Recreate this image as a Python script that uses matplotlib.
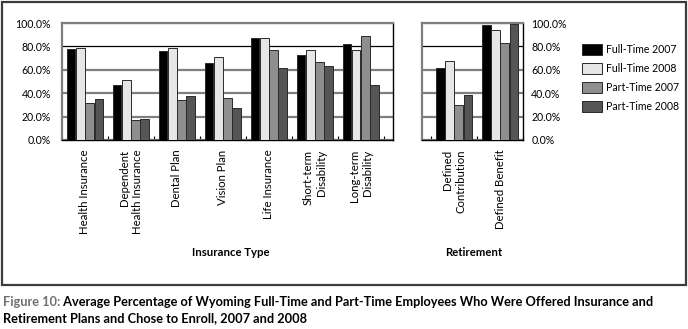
"""
Average share of Wyoming full-time and part-time employees who were
offered insurance / retirement plans and chose to enroll, 2007 vs 2008.

Produces:
    out.png
"""

import matplotlib
matplotlib.use("Agg")
import matplotlib.pyplot as plt
from matplotlib.patches import Rectangle
from matplotlib.ticker import FixedLocator

plt.rcParams["font.family"] = ["Lato", "DejaVu Sans"]

SERIES = ["Full-Time 2007", "Full-Time 2008", "Part-Time 2007", "Part-Time 2008"]
COLORS = ["#000000", "#e6e6e6", "#8e8e8e", "#555555"]

insurance_types = ["Health Insurance", "Dependent\nHealth Insurance", "Dental Plan",
                   "Vision Plan", "Life Insurance", "Short-term\nDisability",
                   "Long-term\nDisability"]
insurance_ft2007 = [77.5, 46.8, 76.4, 65.5, 87.6, 73.0, 82.0]
insurance_ft2008 = [79.0, 51.0, 78.7, 71.3, 86.8, 77.3, 77.3]
insurance_pt2007 = [32.0, 17.0, 34.5, 36.0, 77.0, 66.4, 88.8]
insurance_pt2008 = [35.0, 18.0, 38.0, 27.3, 61.8, 63.5, 47.4]

retirement_types = ["Defined\nContribution", "Defined Benefit"]
retirement_ft2007 = [61.8, 98.3]
retirement_ft2008 = [67.2, 93.7]
retirement_pt2007 = [29.6, 83.3]
retirement_pt2008 = [38.8, 99.4]

Y_TICKS = [0, 20, 40, 60, 80, 100]
TICK_FS = 7.6
XLAB_FS = 8.2
CAP_FS = 9.2
BAR_W = 0.185
STEP = 0.2


def draw_panel(ax, labels, series_values, xlim):
    x = list(range(len(labels)))
    handles = []
    for k, (vals, color) in enumerate(zip(series_values, COLORS)):
        pos = [xi + (k - 1.5) * STEP for xi in x]
        h = ax.bar(pos, vals, width=BAR_W, color=color, edgecolor="#2a2a2a",
                   linewidth=0.7, zorder=3, label=SERIES[k])
        handles.append(h)

    ax.set_xlim(*xlim)
    ax.set_ylim(0, 100)
    ax.set_yticks(Y_TICKS)
    ax.set_yticklabels([f"{v:.1f}%" for v in Y_TICKS], fontsize=TICK_FS)
    ax.set_xticks(x)
    ax.set_xticklabels(labels, rotation=90, fontsize=XLAB_FS,
                       multialignment="right", va="top")
    ax.xaxis.set_minor_locator(FixedLocator([xi - 0.5 for xi in x] + [x[-1] + 0.5]))
    ax.tick_params(axis="x", which="major", length=0, pad=7)
    ax.tick_params(axis="x", which="minor", length=3, direction="in", width=0.8)
    ax.tick_params(axis="y", length=0)

    ax.grid(axis="y", color="#7f7f7f", linewidth=1.6, zorder=0)
    # the 80% line is drawn thin and black in the original
    for val, line in zip(Y_TICKS, ax.get_ygridlines()):
        if val == 80:
            line.set_color("black")
            line.set_linewidth(0.9)

    ax.spines["left"].set_color("#7f7f7f")
    ax.spines["left"].set_linewidth(1.6)
    ax.spines["top"].set_color("#7f7f7f")
    ax.spines["top"].set_linewidth(1.6)
    ax.spines["right"].set_color("black")
    ax.spines["right"].set_linewidth(1.0)
    ax.spines["bottom"].set_color("black")
    ax.spines["bottom"].set_linewidth(1.0)
    return handles


def main():
    W, H = 688, 329
    fig = plt.figure(figsize=(W / 100, H / 100), dpi=100)

    ax1 = fig.add_axes([62 / W, 1 - 140 / H, 331 / W, 117 / H])
    ax2 = fig.add_axes([422 / W, 1 - 140 / H, 101 / W, 117 / H])

    handles = draw_panel(ax1, insurance_types,
                         [insurance_ft2007, insurance_ft2008, insurance_pt2007, insurance_pt2008],
                         (-0.5, 6.7))
    draw_panel(ax2, retirement_types,
               [retirement_ft2007, retirement_ft2008, retirement_pt2007, retirement_pt2008],
               (-0.7, 1.5))
    ax1.tick_params(axis="y", pad=8)
    ax2.yaxis.tick_right()
    ax2.tick_params(axis="y", pad=6)

    fig.text(231 / W, 1 - 253 / H, "Insurance Type", ha="center", va="center",
             fontsize=XLAB_FS, fontweight="bold")
    fig.text(474 / W, 1 - 253 / H, "Retirement", ha="center", va="center",
             fontsize=XLAB_FS, fontweight="bold")

    fig.legend(handles=handles, loc="upper left",
               bbox_to_anchor=(577 / W, 1 - 39 / H), frameon=False,
               fontsize=TICK_FS, handlelength=1.85, handleheight=1.2,
               handletextpad=0.4, labelspacing=0.75, borderpad=0)

    fig.patches.append(Rectangle((1.5 / W, 1 - 285 / H), 684 / W, 283 / H,
                                 transform=fig.transFigure, fill=False,
                                 edgecolor="#3c3c3c", linewidth=1.6))

    cap1 = fig.text(3 / W, 1 - 302 / H, "Figure 10:", ha="left", va="center",
                    fontsize=CAP_FS, color="#707070", fontweight="bold")
    ax1.annotate(" Average Percentage of Wyoming Full-Time and Part-Time Employees "
                 "Who Were Offered Insurance and", xy=(1.0, 0.5), xycoords=cap1,
                 ha="left", va="center", fontsize=CAP_FS, fontweight="bold",
                 annotation_clip=False)
    fig.text(3 / W, 1 - 318 / H, "Retirement Plans and Chose to Enroll, 2007 and 2008",
             ha="left", va="center", fontsize=CAP_FS, fontweight="bold")

    fig.savefig("out.png", dpi=100)
    print("saved out.png")


if __name__ == "__main__":
    main()
